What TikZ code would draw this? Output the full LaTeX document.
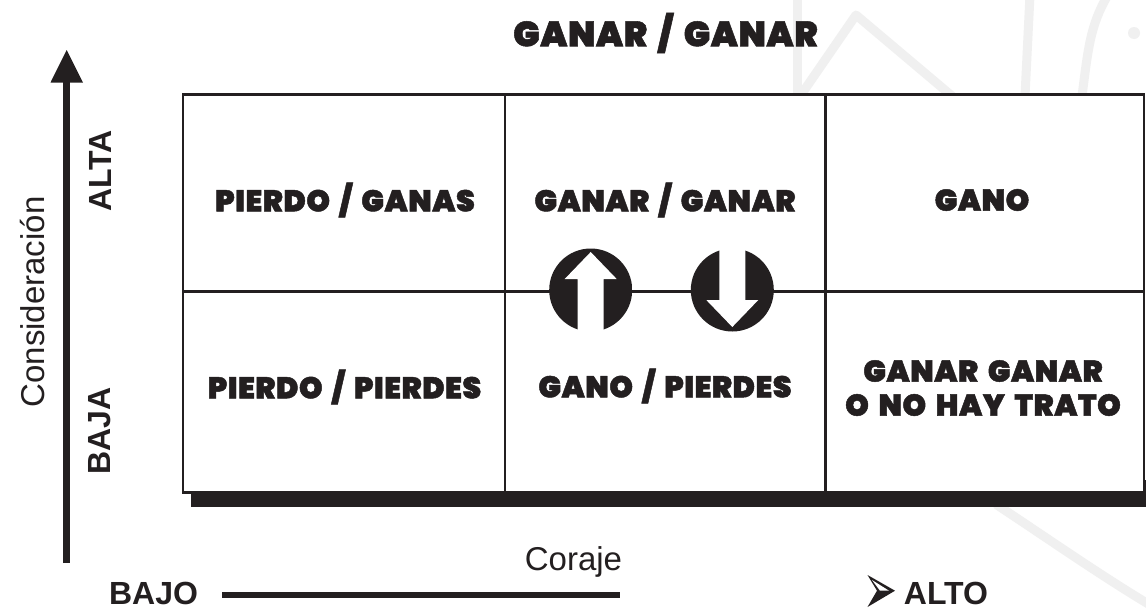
\documentclass[tikz,border=0pt]{standalone}
\usepackage{fontspec}
\setmainfont{Liberation Sans}
\newfontfamily\heavy[FakeBold=1.5,WordSpace=1.7,LetterSpace=2]{Poppins Black}
\definecolor{ink}{HTML}{231F20}
\definecolor{wm}{HTML}{F0F0F0}
\tikzset{
  x=1pt,y=-1pt,
  grid/.style={draw=ink,line width=2.4pt},
  cell/.style={text=ink,inner sep=0pt,align=center,font=\heavy\fontsize{30}{34}\selectfont},
  plain/.style={text=ink,inner sep=0pt,font=\fontsize{33}{36}\selectfont},
  strong/.style={text=ink,inner sep=0pt,font=\bfseries\fontsize{32}{34}\selectfont},
  wmark/.style={draw=wm,line width=9pt,line cap=round,line join=round},
}
\begin{document}
\begin{tikzpicture}
\useasboundingbox (0,0) rectangle (1146,608);
\fill[white] (0,0) rectangle (1146,608);
% watermark
\draw[wmark] (797,96) -- (797,-5);
\draw[wmark] (803,92) -- (856,15) -- (952,96);
\draw[wmark] (1025,96) -- (1030,-5);
\draw[wmark] (1082,96) .. controls (1088,50) and (1090,25) .. (1108,-5);
\fill[wm] (1134,33) circle (6);
\draw[wmark] (997,505) .. controls (1050,540) and (1100,575) .. (1150,605);
% shadow and box
\fill[ink] (190.5,480) rectangle (1146,507);
\draw[grid,fill=white] (183,94.5) rectangle (1144,492.5);
\coordinate (t1) at (505,94.5); \coordinate (b1) at (505,492.5);
\coordinate (t2) at (825.5,94.5); \coordinate (b2) at (825.5,492.5);
\coordinate (l) at (183,291.5); \coordinate (r) at (1144,291.5);
\draw[grid] (t1) -- (b1);
\draw[grid] (t2) -- (b2);
\draw[grid] (l) -- (r);
% round arrows
\begin{scope}
\clip (590.7,290) circle (41.5);
\fill[ink] (549,248) rectangle (633,332);
\end{scope}
\fill[white] (577.7,335) -- (577.7,279) -- (564.7,279) -- (590.7,252) -- (616.7,279) -- (603.7,279) -- (603.7,335) -- cycle;
\begin{scope}
\clip (732.3,290) circle (41.5);
\fill[ink] (690,248) rectangle (774,332);
\end{scope}
\fill[white] (719.3,245) -- (719.3,300) -- (706.3,300) -- (732.3,327) -- (758.3,300) -- (745.3,300) -- (745.3,245) -- cycle;
% vertical axis
\coordinate (ya) at (66.7,563); \coordinate (yb) at (66.7,75);
\draw[draw=ink,line width=6.5pt] (ya) -- (yb);
\fill[ink] (66.7,50) -- (83,82.5) -- (50.5,82.5) -- cycle;
% horizontal
\coordinate (xa) at (222.4,595); \coordinate (xb) at (619.6,595);
\draw[draw=ink,line width=6pt] (xa) -- (xb);
\fill[ink] (895,590.7) -- (867.5,607) -- (877,590.7) -- (867.5,575) -- cycle;
\fill[white] (889,590.7) -- (872,580) -- (880,590.7) -- cycle;
% labels
\node[cell,font=\heavy\fontsize{35}{36}\selectfont] (title) at (665.5,33) {GANAR / GANAR};
\node[cell] (c1) at (345,200) {PIERDO / GANAS};
\node[cell] (c2) at (665,200) {GANAR / GANAR};
\node[cell] (c3) at (982,200) {GANO};
\node[cell] (c4) at (344.5,387) {PIERDO / PIERDES};
\node[cell] (c5) at (665,386) {GANO / PIERDES};
\node[cell] (c6a) at (983,371) {GANAR GANAR};
\node[cell] (c6b) at (983,405) {O NO HAY TRATO};
\node[plain,rotate=90] (cons) at (33,302) {Consideración};
\node[strong,rotate=90] (alta) at (100,171) {ALTA};
\node[strong,rotate=90] (baja) at (100,431) {BAJA};
\node[plain,anchor=base] (coraje) at (573.5,570.5) {Coraje};
\node[strong,anchor=base] (bajo) at (153.5,604.5) {BAJO};
\node[strong,anchor=base] (alto) at (946,604.5) {ALTO};
\end{tikzpicture}
\end{document}
